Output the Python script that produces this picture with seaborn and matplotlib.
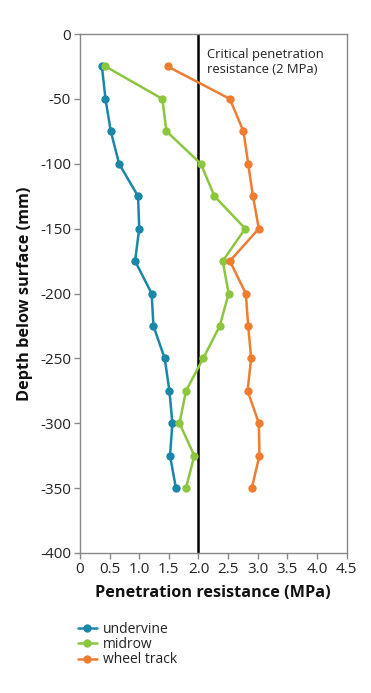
import matplotlib
matplotlib.use("Agg")
import matplotlib.pyplot as plt
import seaborn as sns
import pandas as pd

depth = [-25, -50, -75, -100, -125, -150, -175, -200, -225, -250, -275, -300, -325, -350]
undervine = [0.37, 0.43, 0.52, 0.66, 0.98, 1.00, 0.93, 1.21, 1.24, 1.43, 1.51, 1.56, 1.52, 1.62]
midrow = [0.43, 1.39, 1.46, 2.04, 2.27, 2.79, 2.41, 2.51, 2.36, 2.08, 1.79, 1.68, 1.93, 1.79]
wheel_track = [1.48, 2.53, 2.76, 2.84, 2.92, 3.02, 2.53, 2.80, 2.84, 2.89, 2.83, 3.02, 3.03, 2.90]
series_names = ["undervine", "midrow", "wheel track"]
critical = 2.0
x_ticks = [0, 0.5, 1.0, 1.5, 2.0, 2.5, 3.0, 3.5, 4.0, 4.5]
x_tick_labels = ["0", "0.5", "1.0", "1.5", "2.0", "2.5", "3.0", "3.5", "4.0", "4.5"]
y_ticks = [0, -50, -100, -150, -200, -250, -300, -350, -400]

df = pd.DataFrame({
    "depth": depth * 3,
    "resistance": undervine + midrow + wheel_track,
    "series": [series_names[0]] * len(depth) + [series_names[1]] * len(depth) + [series_names[2]] * len(depth),
})

sns.set_theme(style="white")
plt.rcParams["font.family"] = ["Open Sans", "DejaVu Sans"]

W, H = 371, 693
fig = plt.figure(figsize=(W / 100, H / 100), dpi=100)
ax = fig.add_axes([80 / W, 1 - 553 / H, (346.5 - 80) / W, (553 - 34) / H])

palette = {"undervine": "#1a87a8", "midrow": "#8cc63f", "wheel track": "#ee7d31"}
sns.lineplot(data=df, x="resistance", y="depth", hue="series", palette=palette,
             marker="o", markersize=6, markeredgewidth=0, linewidth=1.8,
             estimator=None, errorbar=None, orient="y", sort=False,
             ax=ax, legend=True)

ax.axvline(critical, color="black", lw=1.8, zorder=1)
ax.text(critical + 0.15, -11, "Critical penetration\nresistance (2 MPa)", fontsize=9.4,
        va="top", ha="left", color="#222222", linespacing=1.15)

ax.set_xlim(0, 4.5)
ax.set_ylim(-400, 0)
ax.set_xticks(x_ticks)
ax.set_xticklabels(x_tick_labels)
ax.set_yticks(y_ticks)
ax.set_yticklabels([str(v) for v in y_ticks])
for s in ["top", "right", "left", "bottom"]:
    ax.spines[s].set_visible(True)
    ax.spines[s].set_color("#888888")
    ax.spines[s].set_linewidth(1.0)
ax.tick_params(axis="both", which="major", length=4, width=1, color="#888888",
               labelsize=11, labelcolor="#222222", pad=2.5, direction="out")
ax.tick_params(left=True, bottom=True, top=False, right=False)
ax.set_xlabel("Penetration resistance (MPa)", fontsize=11.7, fontweight="bold", color="#111111", labelpad=6)
ax.set_ylabel("Depth below surface (mm)", fontsize=11.7, fontweight="bold", color="#111111", labelpad=5)

handles, labels = ax.get_legend_handles_labels()
ax.legend(handles, labels, loc="upper left", bbox_to_anchor=(72 / W, 1 - 616 / H),
          bbox_transform=fig.transFigure, frameon=False, fontsize=10,
          handlelength=1.4, handletextpad=0.4, labelspacing=0.03, borderaxespad=0,
          labelcolor="#222222")

fig.savefig("out.png", dpi=100)
